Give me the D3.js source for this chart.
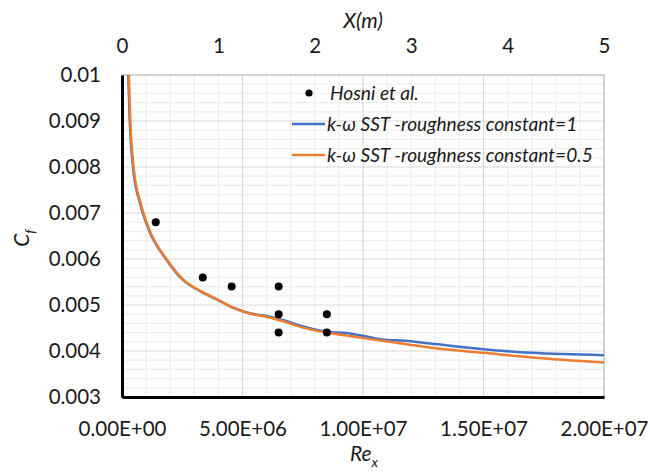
<!DOCTYPE html>
<html>
<head>
<meta charset="utf-8">
<script src="https://cdn.jsdelivr.net/npm/d3@7"></script>
<style>
    body { margin: 0; background: #fff; }
    text { font-family: Lato, "Open Sans", sans-serif; fill: #1a1a1a; }
</style>
</head>
<body>
<div id="chart"></div>
<script>
// Hosni et al. experimental points
var hosniRe = [1.4e6, 3.35e6, 4.55e6, 6.5e6, 6.5e6, 6.5e6, 8.5e6, 8.5e6];
var hosniCf = [0.0068, 0.0056, 0.0054, 0.0054, 0.0048, 0.0044, 0.0048, 0.0044];

// k-w SST, roughness constant = 1
var sst1Re = [0.22e6, 0.26e6, 0.32e6, 0.47e6, 0.75e6, 1.1e6, 1.85e6, 2.54e6, 3.24e6, 3.93e6, 4.62e6,
    5.3e6, 6.0e6, 6.7e6, 7.4e6, 8.5e6, 9.3e6, 10e6, 11e6, 11.6e6, 13e6, 15e6, 17e6, 20e6];
var sst1Cf = [0.0106, 0.0100, 0.00902, 0.00793, 0.00721, 0.00665, 0.00598, 0.00554, 0.0053, 0.00512, 0.00494,
    0.00482, 0.00476, 0.00467, 0.00455, 0.00442, 0.00439, 0.00433, 0.00424, 0.00423, 0.00415, 0.00404, 0.00396, 0.00391];

// k-w SST, roughness constant = 0.5
var sst05Re = [0.22e6, 0.26e6, 0.32e6, 0.47e6, 0.75e6, 1.1e6, 1.85e6, 2.54e6, 3.24e6, 3.93e6, 4.62e6,
    5.3e6, 6.0e6, 6.7e6, 7.4e6, 8.5e6, 10e6, 11.5e6, 13e6, 15e6, 17e6, 20e6];
var sst05Cf = [0.0106, 0.0100, 0.00902, 0.00793, 0.00721, 0.00665, 0.00598, 0.00554, 0.0053, 0.00512, 0.00493,
    0.00481, 0.00474, 0.00464, 0.00452, 0.0044, 0.00428, 0.00417, 0.00406, 0.00396, 0.00386, 0.00375];

var reTicks = [0, 5e6, 1e7, 1.5e7, 2e7];
var reTickLabels = ["0.00E+00", "5.00E+06", "1.00E+07", "1.50E+07", "2.00E+07"];
var xmTicks = [0, 1, 2, 3, 4, 5];
var cfTicks = [0.003, 0.004, 0.005, 0.006, 0.007, 0.008, 0.009, 0.01];
var cfTickLabels = ["0.003", "0.004", "0.005", "0.006", "0.007", "0.008", "0.009", "0.01"];
var legendNames = ["Hosni et al.", "k-\u03c9 SST -roughness constant=1", "k-\u03c9 SST -roughness constant=0.5"];

(function () {
    var width = 650, height = 475;
    var pLeft = 122, pRight = 604, pTop = 75, pBottom = 397;

    var blue = "#4472c4", orange = "#ed7d31";

    var svg = d3.select("#chart")
        .append("svg")
        .attr("width", width)
        .attr("height", height);

    // the original used Calibri; size the substitute font so text widths match
    function fitSize(sample, target, italic) {
        var t = svg.append("text")
            .style("font-size", "20px")
            .style("font-style", italic ? "italic" : "normal")
            .text(sample);
        var w = t.node().getComputedTextLength();
        t.remove();
        return 20 * target / w;
    }
    var tickFs = fitSize("0.00E+00", 88, false);
    var legFs = fitSize(legendNames[2], 266, true);
    var titleFs = tickFs * 1.02;

    var x = d3.scaleLinear().domain([0, 2e7]).range([pLeft, pRight]);
    var xm = d3.scaleLinear().domain([0, 5]).range([pLeft, pRight]);
    var y = d3.scaleLinear().domain([0.003, 0.01]).range([pBottom, pTop]);

    // gridlines, minor first then major
    var minorX = d3.range(1e6, 2e7, 1e6).filter(function (d) { return d % 5e6 !== 0; });
    var minorY = d3.range(32, 100, 2).filter(function (d) { return d % 10 !== 0; })
        .map(function (d) { return d / 10000; });

    var grid = svg.append("g");
    grid.selectAll(".vminor").data(minorX).enter().append("line")
        .attr("x1", function (d) { return x(d); }).attr("x2", function (d) { return x(d); })
        .attr("y1", pTop).attr("y2", pBottom)
        .attr("stroke", "#efefef").attr("stroke-width", 1.2);
    grid.selectAll(".hminor").data(minorY).enter().append("line")
        .attr("x1", pLeft).attr("x2", pRight)
        .attr("y1", function (d) { return y(d); }).attr("y2", function (d) { return y(d); })
        .attr("stroke", "#efefef").attr("stroke-width", 1.2);
    grid.selectAll(".vmajor").data(reTicks.slice(1, -1)).enter().append("line")
        .attr("x1", function (d) { return x(d); }).attr("x2", function (d) { return x(d); })
        .attr("y1", pTop).attr("y2", pBottom)
        .attr("stroke", "#d9d9d9").attr("stroke-width", 1.2);
    grid.selectAll(".hmajor").data(cfTicks.slice(1, -1)).enter().append("line")
        .attr("x1", pLeft).attr("x2", pRight)
        .attr("y1", function (d) { return y(d); }).attr("y2", function (d) { return y(d); })
        .attr("stroke", "#d9d9d9").attr("stroke-width", 1.2);

    // plot border (top/right are grey)
    svg.append("rect")
        .attr("x", pLeft).attr("y", pTop)
        .attr("width", pRight - pLeft).attr("height", pBottom - pTop)
        .attr("fill", "none").attr("stroke", "#a6a6a6").attr("stroke-width", 1);

    // curves
    svg.append("clipPath").attr("id", "clip")
        .append("rect").attr("x", pLeft).attr("y", pTop).attr("width", pRight - pLeft).attr("height", pBottom - pTop);

    var line = d3.line()
        .x(function (d) { return x(d[0]); })
        .y(function (d) { return y(d[1]); })
        .curve(d3.curveMonotoneX);

    svg.append("path")
        .datum(d3.zip(sst1Re, sst1Cf))
        .attr("clip-path", "url(#clip)")
        .attr("d", line)
        .attr("fill", "none").attr("stroke", blue).attr("stroke-width", 2.5);

    svg.append("g")
        .attr("clip-path", "url(#clip)")
        .append("path")
        .datum(d3.zip(sst05Re, sst05Cf))
        .attr("d", line)
        .attr("transform", "translate(0.6,0)")
        .attr("fill", "none").attr("stroke", orange).attr("stroke-width", 2.5);

    svg.selectAll(".hosni")
        .data(d3.zip(hosniRe, hosniCf))
        .enter().append("circle")
        .attr("class", "hosni")
        .attr("cx", function (d) { return x(d[0]); })
        .attr("cy", function (d) { return y(d[1]); })
        .attr("r", 4)
        .attr("fill", "#000");

    // axes
    var yAxis = svg.append("g")
        .attr("transform", "translate(" + pLeft + ",0)")
        .call(d3.axisLeft(y).tickValues(cfTicks).tickSize(0).tickSizeOuter(0).tickPadding(21)
            .tickFormat(function (d, i) { return cfTickLabels[i]; }));

    var xAxis = svg.append("g")
        .attr("transform", "translate(0," + pBottom + ")")
        .call(d3.axisBottom(x).tickValues(reTicks).tickSize(0).tickSizeOuter(0).tickPadding(32 - 0.35 * tickFs)
            .tickFormat(function (d, i) { return reTickLabels[i]; }));

    var topAxis = svg.append("g")
        .attr("transform", "translate(0," + pTop + ")")
        .call(d3.axisTop(xm).tickValues(xmTicks).tickSize(0).tickSizeOuter(0).tickPadding(29 - 0.36 * tickFs)
            .tickFormat(d3.format("d")));
    topAxis.select(".domain").remove();

    [yAxis, xAxis, topAxis].forEach(function (g) {
        g.selectAll("text").style("font-family", "Lato, sans-serif").style("font-size", tickFs + "px").attr("fill", "#1a1a1a");
    });
    yAxis.select(".domain").attr("stroke", "#000").attr("stroke-width", 3);
    xAxis.select(".domain").attr("stroke", "#000").attr("stroke-width", 3);

    // axis titles
    svg.append("text")
        .attr("x", (pLeft + pRight) / 2).attr("y", 20 + 0.36 * titleFs)
        .attr("text-anchor", "middle")
        .style("font-size", titleFs + "px").style("font-style", "italic")
        .text("X(m)");

    var reTitle = svg.append("text")
        .attr("x", (pLeft + pRight) / 2 + 1).attr("y", 453 + 0.36 * titleFs)
        .attr("text-anchor", "middle")
        .style("font-size", titleFs + "px").style("font-style", "italic");
    reTitle.append("tspan").text("Re");
    reTitle.append("tspan").attr("dy", 6).style("font-size", (titleFs * 0.66) + "px").text("x");

    var cfTitle = svg.append("text")
        .attr("transform", "translate(" + (21 + 0.36 * titleFs) + "," + ((pTop + pBottom) / 2 + 2) + ") rotate(-90)")
        .attr("text-anchor", "middle")
        .style("font-size", titleFs + "px").style("font-style", "italic");
    cfTitle.append("tspan").text("C");
    cfTitle.append("tspan").attr("dy", 6).style("font-size", (titleFs * 0.66) + "px").text("f");

    // legend
    var legend = svg.append("g");
    var legendY = [93, 124, 155];

    legend.append("circle")
        .attr("cx", 309).attr("cy", legendY[0]).attr("r", 3.6).attr("fill", "#000");
    legend.append("line")
        .attr("x1", 292).attr("x2", 325).attr("y1", legendY[1]).attr("y2", legendY[1])
        .attr("stroke", blue).attr("stroke-width", 2.5);
    legend.append("line")
        .attr("x1", 292).attr("x2", 325).attr("y1", legendY[2]).attr("y2", legendY[2])
        .attr("stroke", orange).attr("stroke-width", 2.5);

    legend.selectAll(".legtext")
        .data(legendNames)
        .enter().append("text")
        .attr("class", "legtext")
        .attr("x", function (d, i) { return i === 0 ? 330 : 327; })
        .attr("y", function (d, i) { return legendY[i] + 0.36 * legFs; })
        .style("font-size", legFs + "px").style("font-style", "italic")
        .text(function (d) { return d; });
})();
</script>
</body>
</html>
